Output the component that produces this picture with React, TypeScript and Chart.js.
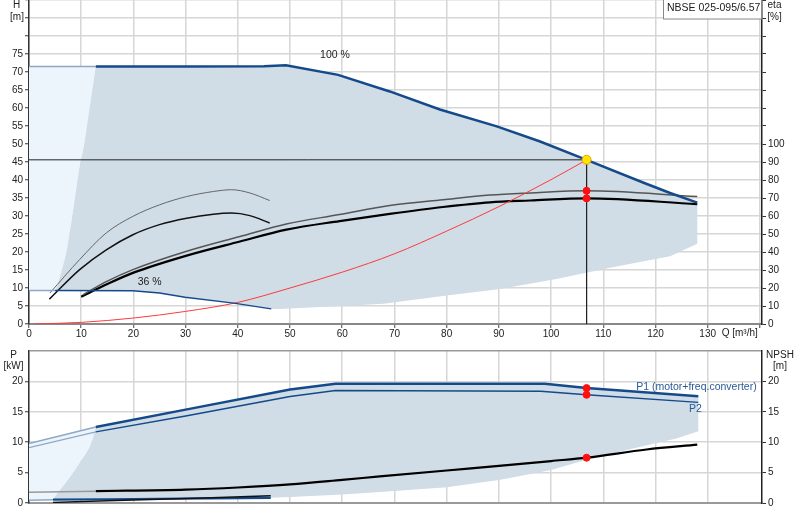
import React, { useEffect, useRef } from 'react';
import { Chart, registerables } from 'chart.js';

Chart.register(...registerables);

const FONT = '"Liberation Sans", Arial, sans-serif';
const BLUE = '#154a8a';
const BLUE_FADE = '#8ea7c6';
const SHADE = '#d0dce6';
const SHADE_LIGHT = '#edf5fc';
const GRID = '#d6d6d6';

// ---------- Upper diagram (H [m] / eta [%] vs Q [m³/h]) ----------
const X_TICKS = [0, 10, 20, 30, 40, 50, 60, 70, 80, 90, 100, 110, 120, 130];
const H_TICKS = [0, 5, 10, 15, 20, 25, 30, 35, 40, 45, 50, 55, 60, 65, 70, 75];
const ETA_TICKS = [0, 10, 20, 30, 40, 50, 60, 70, 80, 90, 100];
const P_TICKS = [0, 5, 10, 15, 20];

const Q_H100_FADE = [0, 12.8];
const H100_FADE = [71.5, 71.5];
const Q_H100 = [12.8, 30, 45, 49.2, 59.2, 69.1, 78.7, 89.6, 97.9, 106.8, 117.6, 122.8, 128];
const H100 = [71.5, 71.5, 71.6, 71.9, 69.2, 64.6, 59.6, 54.9, 50.7, 45.6, 39.3, 36.4, 33.7];

const Q_H36_FADE = [0, 5];
const H36_FADE = [9.3, 9.3];
const Q_H36 = [5, 19.9, 25, 29.9, 39.2, 46.4];
const H36 = [9.3, 9.25, 8.6, 7.4, 5.8, 4.2];

const Q_AREA_LEFT = [12.8, 11.6, 10.6, 9.6, 9.0, 8.3, 7.2, 6.3, 5.3, 5.0];
const H_AREA_LEFT = [71.5, 60, 50, 43, 37, 30, 20, 15, 10, 9.3];
const Q_AREA_BOTTOM = [128, 122.8, 112, 101, 90.2, 80, 67.9, 60.8, 48, 46.4];
const H_AREA_BOTTOM = [22.3, 18.8, 15.8, 12.5, 9.7, 7.9, 5.6, 5.1, 4.2, 4.2];

const Q_ETA100_TOTAL = [10.3, 15, 19.9, 30.2, 40.4, 49.3, 59.5, 69.1, 79.3, 88.3, 96, 106.8, 128];
const ETA100_TOTAL = [16.2, 23.8, 30.2, 40.4, 48.6, 55.6, 60.8, 65.8, 69, 71.6, 72.8, 74, 70.8];
const Q_ETA100_PUMP = [10, 15, 19.9, 30.2, 40.4, 49.3, 59.5, 69.1, 79.3, 88.3, 96, 106.8, 128];
const ETA100_PUMP = [15.2, 22.2, 28.4, 38, 45.8, 52.4, 57.2, 61.2, 65, 67.6, 68.6, 69.8, 66.6];

const Q_ETA36_TOTAL = [4, 9.7, 14.8, 19.9, 25, 30.2, 35.3, 38.8, 42.3, 46.1];
const ETA36_TOTAL = [17.2, 35.8, 50.6, 59.8, 66.2, 70.8, 73.6, 74.6, 72.8, 68.6];
const Q_ETA36_PUMP = [3.9, 9.7, 14.8, 19.9, 25, 30.2, 35.3, 38.8, 42.3, 46.1];
const ETA36_PUMP = [13.8, 30.2, 41.2, 49.6, 55.2, 58.8, 61, 61.6, 60.2, 56.1];

const Q_SYSTEM = [1, 10, 20, 30, 40, 50, 60, 70, 80, 90, 100, 106.8];
const H_SYSTEM = [0, 0.45, 1.66, 3.5, 6.0, 10.0, 14.4, 19.5, 25.8, 32.6, 40.1, 45.6];

const DUTY_Q = 106.8;
const DUTY_H = 45.6;
const DUTY_ETA = [74, 69.8];

// ---------- Lower diagram (P [kW] / NPSH [m] vs Q) ----------
const Q_P1_FADE = [0, 12.8];
const P1_FADE = [9.8, 12.5];
const Q_P1 = [12.8, 30, 50, 58.7, 98.8, 106.8, 128.2];
const P1 = [12.5, 15.36, 18.65, 19.6, 19.6, 18.9, 17.55];

const Q_P2_FADE = [0, 12.8];
const P2_FADE = [9.1, 11.7];
const Q_P2 = [12.8, 30, 50, 58.7, 98, 106.8, 128.2];
const P2 = [11.7, 14.3, 17.5, 18.5, 18.4, 17.8, 16.55];

const Q_NPSH_FADE = [0, 12.8];
const NPSH_FADE = [1.75, 1.95];
const Q_NPSH = [12.8, 30, 40, 50, 60, 67.2, 80, 90, 100, 106.8, 118.3, 128];
const NPSH = [1.95, 2.2, 2.55, 3.05, 3.8, 4.37, 5.35, 6.1, 6.9, 7.45, 8.8, 9.6];

const Q_P36_FADE = [0, 4.6];
const P36_FADE = [0.44, 0.55];
const Q_P36 = [4.6, 15, 25, 35, 46.3];
const P36 = [0.55, 0.62, 0.7, 0.77, 0.85];
const Q_NPSH36 = [4.6, 15, 25, 35, 46.3];
const NPSH36 = [0.1, 0.35, 0.6, 0.88, 1.2];

const Q_PAREA_LEFT = [12.8, 12.2, 11.5, 10.8, 10, 8.4, 7, 5.9, 5, 4.6];
const P_AREA_LEFT = [12.5, 10.5, 9, 8, 7, 4.9, 3.3, 2.1, 1.1, 0.55];
const Q_PAREA_BOTTOM = [128.2, 124, 118.3, 106.8, 99.8, 90, 80, 67.2, 60, 50, 46.3];
const P_AREA_BOTTOM = [11.8, 10.6, 9.5, 7.1, 5.4, 3.8, 2.6, 1.8, 1.4, 1.0, 0.85];

const DUTY_P = [18.9, 17.8];
const DUTY_NPSH = 7.45;

const TITLE = 'NBSE 025-095/6.57';
const X_MAX = 140.4;

type Pt = { x: number; y: number };
const zip = (qs: number[], vs: number[]): Pt[] => qs.map((q, i) => ({ x: q, y: vs[i] }));
const rev = (a: Pt[]) => a.slice().reverse();

function line(data: Pt[], color: string, width: number, extra: any = {}) {
  return {
    data,
    showLine: true,
    borderColor: color,
    borderWidth: width,
    pointRadius: 0,
    fill: false,
    tension: 0,
    order: 5,
    ...extra,
  };
}
function area(data: Pt[], color: string, extra: any = {}) {
  return {
    data,
    showLine: true,
    borderWidth: 0,
    borderColor: 'rgba(0,0,0,0)',
    backgroundColor: color,
    pointRadius: 0,
    fill: 'shape',
    tension: 0,
    order: 50,
    ...extra,
  };
}
function dots(data: Pt[], fillC: string, strokeC: string, r: number, extra: any = {}) {
  return {
    data,
    showLine: false,
    pointRadius: r,
    pointBackgroundColor: fillC,
    pointBorderColor: strokeC,
    pointBorderWidth: 1,
    order: 0,
    ...extra,
  };
}

const tickFont = { family: FONT, size: 10 };

function fixedY(width: number) {
  return (s: any) => {
    s.width = width;
    s.paddingTop = 0;
    s.paddingBottom = 0;
  };
}
function fixedX(height: number) {
  return (s: any) => {
    s.height = height;
    s.paddingLeft = 0;
    s.paddingRight = 0;
  };
}
const ticksOnly = (list: number[]) => (axis: any) => {
  axis.ticks = [];
  const st = axis.options.ticks.stepSize;
  for (let v = axis.min; v <= axis.max + 1e-6; v += st) axis.ticks.push({ value: Math.round(v * 100) / 100 });
};
const labelIf = (list: number[]) => (v: any) => (list.includes(Number(v)) ? String(v) : '');

export default function App() {
  const topRef = useRef<HTMLCanvasElement>(null);
  const botRef = useRef<HTMLCanvasElement>(null);

  useEffect(() => {
    const topTexts = {
      id: 'topTexts',
      afterDraw(chart: any) {
        const ctx = chart.ctx;
        const xs = chart.scales.x;
        const ys = chart.scales.y;
        ctx.save();
        ctx.font = `10px ${FONT}`;
        ctx.fillStyle = '#222';
        ctx.textBaseline = 'middle';
        ctx.textAlign = 'center';
        ctx.fillText('H', 16.5, 5.5);
        ctx.fillText('[m]', 17, 17);
        ctx.fillText('eta', 774.5, 5.5);
        ctx.fillText('[%]', 774.5, 17);
        ctx.textAlign = 'left';
        ctx.fillText('Q [m³/h]', xs.getPixelForValue(130) + 14, 333.5);
        ctx.fillStyle = '#fff';
        ctx.fillRect(663.5, 0, 98, 19);
        ctx.strokeStyle = '#888';
        ctx.lineWidth = 1;
        ctx.strokeRect(663.5, -0.5, 98, 19.5);
        ctx.fillStyle = '#222';
        ctx.font = `10.5px ${FONT}`;
        ctx.fillText(TITLE, 667, 8);
        ctx.font = `10.5px ${FONT}`;
        ctx.textAlign = 'center';
        ctx.fillText('100 %', xs.getPixelForValue(58.6), ys.getPixelForValue(74.6));
        ctx.fillText('36 %', xs.getPixelForValue(23.1), ys.getPixelForValue(11.6));
        ctx.restore();
      },
    };
    const botTexts = {
      id: 'botTexts',
      afterDraw(chart: any) {
        const ctx = chart.ctx;
        const xs = chart.scales.x;
        const ys = chart.scales.y;
        ctx.save();
        ctx.font = `10px ${FONT}`;
        ctx.fillStyle = '#222';
        ctx.textBaseline = 'middle';
        ctx.textAlign = 'center';
        ctx.fillText('P', 13.5, 10);
        ctx.fillText('[kW]', 13.5, 21);
        ctx.fillText('NPSH', 780, 10);
        ctx.fillText('[m]', 780, 21.5);
        ctx.fillStyle = '#2a5a96';
        ctx.textAlign = 'left';
        ctx.font = `10.5px ${FONT}`;
        ctx.fillText('P1 (motor+freq.converter)', xs.getPixelForValue(116.3), ys.getPixelForValue(19.1));
        ctx.fillText('P2', xs.getPixelForValue(126.4), ys.getPixelForValue(15.4));
        ctx.restore();
      },
    };

    const h100 = zip(Q_H100, H100);
    const h36 = zip(Q_H36, H36);
    const areaLeft = zip(Q_AREA_LEFT, H_AREA_LEFT);
    const areaBottom = zip(Q_AREA_BOTTOM, H_AREA_BOTTOM);
    const darkTop = [...h100, ...areaBottom, ...rev(h36), ...rev(areaLeft)];
    const lightTop = [...zip(Q_H100_FADE, H100_FADE), ...areaLeft, ...rev(zip(Q_H36_FADE, H36_FADE))];

    const top = new Chart(topRef.current!, {
      type: 'scatter',
      data: {
        datasets: [
          dots([{ x: DUTY_Q, y: DUTY_H }], '#ffe600', '#f0a000', 4.5),
          dots(DUTY_ETA.map((e) => ({ x: DUTY_Q, y: e })), '#ff1010', '#ff1010', 3.5, { yAxisID: 'y2' }),
          line([{ x: 0, y: DUTY_H }, { x: DUTY_Q, y: DUTY_H }, { x: DUTY_Q, y: 0 }], '#222', 1, { order: 6 }),
          line(zip(Q_SYSTEM, H_SYSTEM), '#ff3a3a', 1, { order: 4, cubicInterpolationMode: 'monotone' }),
          line(h100, BLUE, 2.5, { order: 3 }),
          line(zip(Q_H100_FADE, H100_FADE), BLUE_FADE, 1.5),
          line(h36, BLUE, 1.5, { order: 3 }),
          line(zip(Q_H36_FADE, H36_FADE), BLUE_FADE, 1.5),
          line(zip(Q_ETA100_TOTAL, ETA100_TOTAL), '#555', 1.5, { yAxisID: 'y2', cubicInterpolationMode: 'monotone' }),
          line(zip(Q_ETA100_PUMP, ETA100_PUMP), '#000', 2.2, { yAxisID: 'y2', cubicInterpolationMode: 'monotone' }),
          line(zip(Q_ETA36_TOTAL, ETA36_TOTAL), '#666', 1, { yAxisID: 'y2', cubicInterpolationMode: 'monotone' }),
          line(zip(Q_ETA36_PUMP, ETA36_PUMP), '#111', 1.5, { yAxisID: 'y2', cubicInterpolationMode: 'monotone' }),
          area(darkTop, SHADE),
          area(lightTop, SHADE_LIGHT),
        ] as any,
      },
      options: {
        animation: false,
        responsive: false,
        devicePixelRatio: 1,
        events: [],
        layout: { padding: 0, autoPadding: false },
        plugins: { legend: { display: false }, tooltip: { enabled: false } },
        scales: {
          x: {
            type: 'linear',
            min: 0,
            max: X_MAX,
            afterBuildTicks: ticksOnly(X_TICKS),
            ticks: { stepSize: 10, autoSkip: false, maxRotation: 0, font: tickFont, color: '#222', padding: 0, callback: labelIf(X_TICKS) },
            grid: { color: GRID, lineWidth: 1.5, tickLength: 4, tickColor: '#444', tickWidth: 1 },
            border: { color: '#888', width: 2 },
            afterFit: fixedX(21),
          },
          y: {
            type: 'linear',
            position: 'left',
            min: 0,
            max: 90,
            afterBuildTicks: ticksOnly(H_TICKS),
            ticks: { stepSize: 5, autoSkip: false, font: tickFont, color: '#222', padding: 2, callback: labelIf(H_TICKS) },
            grid: { color: GRID, lineWidth: 1.5, tickLength: 4, tickColor: '#333', tickWidth: 1 },
            border: { color: '#333', width: 1.5 },
            afterFit: fixedY(29),
          },
          y2: {
            type: 'linear',
            position: 'right',
            min: 0,
            max: 180,
            afterBuildTicks: ticksOnly(ETA_TICKS),
            ticks: { stepSize: 10, autoSkip: false, font: tickFont, color: '#222', padding: 2, callback: labelIf(ETA_TICKS) },
            grid: { drawOnChartArea: false, tickLength: 4, tickColor: '#333', tickWidth: 1 },
            border: { color: '#222', width: 1.5 },
            afterFit: fixedY(38),
          },
        },
      } as any,
      plugins: [topTexts],
    });

    const p1 = zip(Q_P1, P1);
    const pLeft = zip(Q_PAREA_LEFT, P_AREA_LEFT);
    const pBottom = zip(Q_PAREA_BOTTOM, P_AREA_BOTTOM);
    const p36 = zip(Q_P36, P36);
    const darkBot = [...p1, ...pBottom, ...rev(p36), ...rev(pLeft)];
    const lightBot = [...zip(Q_P1_FADE, P1_FADE), ...pLeft, ...rev(zip(Q_P36_FADE, P36_FADE))];

    const bot = new Chart(botRef.current!, {
      type: 'scatter',
      data: {
        datasets: [
          dots(DUTY_P.map((p) => ({ x: DUTY_Q, y: p })), '#ff1010', '#ff1010', 3.5),
          dots([{ x: DUTY_Q, y: DUTY_NPSH }], '#ff1010', '#ff1010', 3.5, { yAxisID: 'y2' }),
          line(p1, BLUE, 2.5, { order: 3 }),
          line(zip(Q_P1_FADE, P1_FADE), BLUE_FADE, 1.5),
          line(zip(Q_P2, P2), BLUE, 1.5, { order: 3 }),
          line(zip(Q_P2_FADE, P2_FADE), BLUE_FADE, 1.2),
          line(zip(Q_NPSH, NPSH), '#000', 2.2, { yAxisID: 'y2', cubicInterpolationMode: 'monotone' }),
          line(zip(Q_NPSH_FADE, NPSH_FADE), '#999', 1.5, { yAxisID: 'y2' }),
          line(p36, BLUE, 2.2, { order: 3 }),
          line(zip(Q_P36_FADE, P36_FADE), BLUE_FADE, 1.5),
          line(zip(Q_NPSH36, NPSH36), '#111', 1.5, { yAxisID: 'y2', order: 2 }),
          area(darkBot, SHADE),
          area(lightBot, SHADE_LIGHT),
        ] as any,
      },
      options: {
        animation: false,
        responsive: false,
        devicePixelRatio: 1,
        events: [],
        layout: { padding: { top: 6, left: 0, right: 0, bottom: 0 }, autoPadding: false },
        plugins: { legend: { display: false }, tooltip: { enabled: false } },
        scales: {
          x: {
            type: 'linear',
            min: 0,
            max: X_MAX,
            afterBuildTicks: ticksOnly(X_TICKS),
            ticks: { display: false, stepSize: 10 },
            grid: { color: (c: any) => (c.tick && c.tick.value > 130 ? 'rgba(0,0,0,0)' : GRID), lineWidth: 1.5, drawTicks: false },
            border: { color: '#999', width: 2 },
            afterFit: fixedX(17),
          },
          y: {
            type: 'linear',
            position: 'left',
            min: 0,
            max: 25,
            afterBuildTicks: ticksOnly(P_TICKS),
            ticks: { stepSize: 5, autoSkip: false, font: tickFont, color: '#222', padding: 2, callback: labelIf(P_TICKS) },
            grid: {
              color: (c: any) => (c.tick && c.tick.value >= 25 ? '#999' : GRID),
              lineWidth: 1.5,
              tickLength: 4,
              tickColor: (c: any) => (c.tick && c.tick.value >= 25 ? 'rgba(0,0,0,0)' : '#333'),
              tickWidth: 1,
            },
            border: { color: '#333', width: 1.5 },
            afterFit: fixedY(29),
          },
          y2: {
            type: 'linear',
            position: 'right',
            min: 0,
            max: 25,
            afterBuildTicks: ticksOnly(P_TICKS),
            ticks: { stepSize: 5, autoSkip: false, font: tickFont, color: '#222', padding: 2, callback: labelIf(P_TICKS) },
            grid: {
              drawOnChartArea: false,
              tickLength: 4,
              tickColor: (c: any) => (c.tick && c.tick.value >= 25 ? 'rgba(0,0,0,0)' : '#333'),
              tickWidth: 1,
            },
            border: { color: '#222', width: 1.5 },
            afterFit: fixedY(38),
          },
        },
      } as any,
      plugins: [botTexts],
    });

    return () => {
      top.destroy();
      bot.destroy();
    };
  }, []);

  return (
    <div style={{ position: 'fixed', left: 0, top: 0, width: 800, height: 520, background: '#fff' }}>
      <canvas ref={topRef} width={800} height={345} style={{ position: 'absolute', left: 0, top: 0 }} />
      <canvas ref={botRef} width={800} height={175} style={{ position: 'absolute', left: 0, top: 345 }} />
    </div>
  );
}
